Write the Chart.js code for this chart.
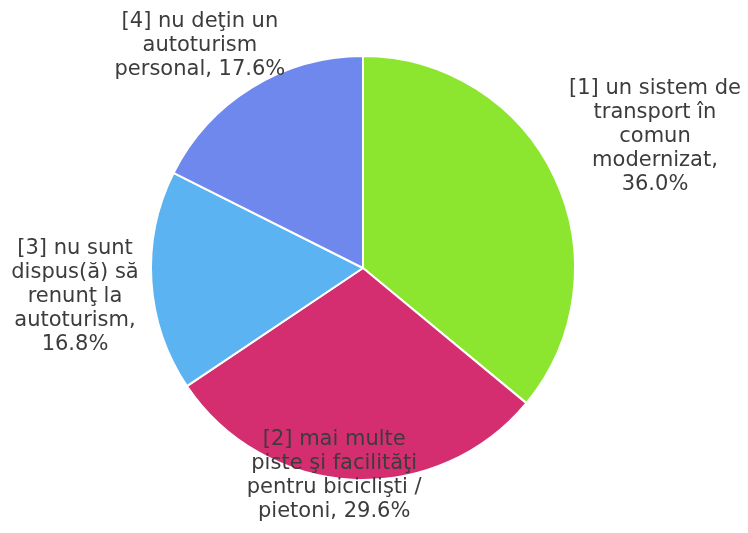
<!DOCTYPE html>
<html>
<head>
<meta charset="utf-8">
<script src="https://cdn.jsdelivr.net/npm/chart.js@4/dist/chart.umd.min.js"></script>
<style>
  html, body { margin: 0; padding: 0; background: #fff; }
  #wrap { width: 748px; height: 533px; }
</style>
</head>
<body>
<div id="wrap"><canvas id="pie" width="748" height="533"></canvas></div>
<script>
// Data
const categories = [
  ["[1] un sistem de", "transport în", "comun", "modernizat,"],
  ["[2] mai multe", "piste şi facilităţi", "pentru biciclişti /"],
  ["[3] nu sunt", "dispus(ă) să", "renunţ la", "autoturism,"],
  ["[4] nu deţin un", "autoturism", "personal,"]
];
const percents = [36.0, 29.6, 16.8, 17.6];
const sliceColors = ["#8ce52f", "#d42e71", "#5cb3f2", "#6e88ee"];

// label placement: distance from centre (x radius) and angle nudge (deg)
const labelRadius = [1.51, 0.99, 1.365, 1.30];
const labelNudge = [1, 5, -2, -4.6];

// builds the text lines for each label (last line carries the percent)
function labelLines(i) {
  const lines = categories[i].slice();
  const pct = percents[i].toFixed(1) + "%";
  if (i === 1 || i === 3) {
    lines[lines.length - 1] = lines[lines.length - 1] + (i === 1 ? "" : " " + pct);
    if (i === 1) lines.push("pietoni, " + pct);
  } else {
    lines.push(pct);
  }
  return lines;
}

const sliceLabels = {
  id: "sliceLabels",
  afterDatasetsDraw(chart) {
    const ctx = chart.ctx;
    const arcs = chart.getDatasetMeta(0).data;
    ctx.save();
    ctx.font = "21px 'DejaVu Sans', Verdana, sans-serif";
    ctx.fillStyle = "#3c3c3c";
    ctx.textAlign = "center";
    ctx.textBaseline = "middle";
    arcs.forEach((arc, i) => {
      const mid = (arc.startAngle + arc.endAngle) / 2 + labelNudge[i] * Math.PI / 180;
      const r = arc.outerRadius * labelRadius[i];
      const cx = arc.x + Math.cos(mid) * r;
      const cy = arc.y + Math.sin(mid) * r;
      const lines = labelLines(i);
      const lh = 24;
      const top = cy - (lines.length - 1) * lh / 2;
      lines.forEach((t, k) => ctx.fillText(t, cx, top + k * lh));
    });
    ctx.restore();
  }
};

new Chart(document.getElementById("pie"), {
  type: "pie",
  data: {
    labels: categories.map(c => c.join(" ")),
    datasets: [{
      data: percents,
      backgroundColor: sliceColors,
      borderColor: "#ffffff",
      borderWidth: 2
    }]
  },
  options: {
    responsive: false,
    animation: false,
    layout: { padding: { top: 55, bottom: 52, left: 140, right: 162 } },
    plugins: {
      legend: { display: false },
      tooltip: { enabled: false }
    }
  },
  plugins: [sliceLabels]
});
</script>
</body>
</html>
